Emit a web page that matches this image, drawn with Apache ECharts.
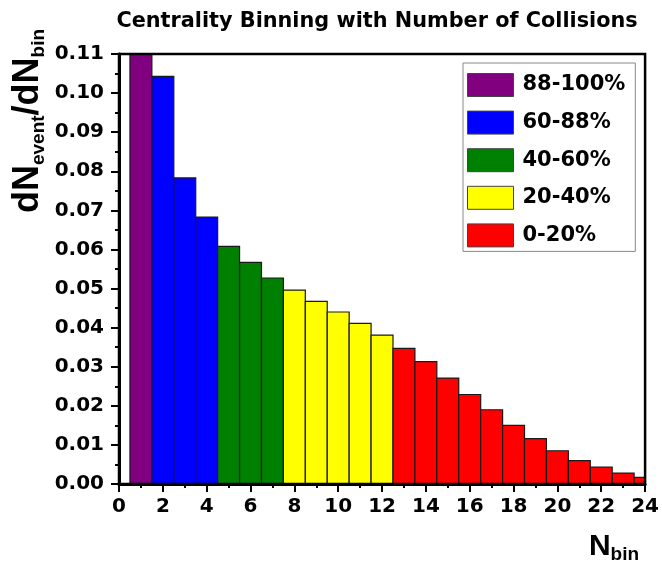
<!DOCTYPE html>
<html>
<head>
<meta charset="utf-8">
<style>
  html, body { margin: 0; padding: 0; background: #fff; }
  #chart { width: 662px; height: 568px; }
</style>
<script src="https://cdn.jsdelivr.net/npm/echarts@6/dist/echarts.min.js"></script>
</head>
<body>
<div id="chart"></div>
<script>
// Number of binary collisions per event (bin centres) and the event fraction per bin
const nBin = [1, 2, 3, 4, 5, 6, 7, 8, 9, 10, 11, 12, 13, 14, 15, 16, 17, 18, 19, 20, 21, 22, 23, 24];
const dNdN = [0.110, 0.1043, 0.0783, 0.0683, 0.0608, 0.0567, 0.0527, 0.0496, 0.0467, 0.0440,
              0.0411, 0.0381, 0.0347, 0.0313, 0.0271, 0.0229, 0.0190, 0.0150, 0.0116, 0.0085,
              0.0060, 0.0043, 0.0028, 0.0017];
// Centrality class of each bin (index into the classes below)
const classOfBin = [0, 1, 1, 1, 2, 2, 2, 3, 3, 3, 3, 3, 4, 4, 4, 4, 4, 4, 4, 4, 4, 4, 4, 4];
const classNames = ['88-100%', '60-88%', '40-60%', '20-40%', '0-20%'];
const classColors = ['#800080', '#0000ff', '#008000', '#ffff00', '#ff0000'];
const xTicks = { min: 0, max: 24, step: 2 };
const yTicks = { min: 0, max: 0.11, step: 0.01 };

const FONT = '"Liberation Sans", Arial, sans-serif';
const WIDE = '"DejaVu Sans", sans-serif';

function renderBar(params, api) {
  const x = api.value(0), y = api.value(1);
  const p0 = api.coord([x - 0.5, y]);
  const p1 = api.coord([x + 0.5, 0]);
  const rect = echarts.graphic.clipRectByRect(
    { x: p0[0], y: p0[1], width: p1[0] - p0[0], height: p1[1] - p0[1] },
    { x: params.coordSys.x, y: params.coordSys.y, width: params.coordSys.width, height: params.coordSys.height }
  );
  if (!rect) return;
  return {
    type: 'rect',
    shape: rect,
    style: { fill: api.visual('color'), stroke: '#1a1a1a', lineWidth: 1.2 }
  };
}

const series = classNames.map((name, ci) => ({
  name: name,
  type: 'custom',
  renderItem: renderBar,
  itemStyle: { color: classColors[ci] },
  encode: { x: 0, y: 1 },
  data: nBin.map((n, i) => [n, dNdN[i]]).filter((d, i) => classOfBin[i] === ci),
  z: 2
}));

const tickFont = { fontFamily: WIDE, fontWeight: 'bold', fontSize: 20, color: '#000' };

const chart = echarts.init(document.getElementById('chart'), null, { renderer: 'canvas' });
chart.setOption({
  animation: false,
  backgroundColor: '#fff',
  title: {
    text: 'Centrality Binning with Number of Collisions',
    left: 372,
    textAlign: 'center',
    top: 6,
    textStyle: { fontFamily: WIDE, fontWeight: 'bold', fontSize: 20.8, color: '#000' }
  },
  grid: {
    left: 119, right: 12, top: 54, bottom: 84,
    show: true, borderColor: '#000', borderWidth: 2.5, backgroundColor: 'transparent', z: 5
  },
  legend: {
    orient: 'vertical',
    left: 463, top: 63,
    data: classNames,
    icon: 'rect',
    itemWidth: 46, itemHeight: 23, itemGap: 13.6,
    padding: [10, 10, 4, 4],
    borderColor: '#888', borderWidth: 1, backgroundColor: '#fff',
    itemStyle: { borderColor: '#444', borderWidth: 1 },
    textStyle: { fontFamily: WIDE, fontWeight: 'bold', fontSize: 21, color: '#000', padding: [0, 0, 0, 4] },
    selectedMode: false
  },
  xAxis: {
    type: 'value',
    min: xTicks.min, max: xTicks.max, interval: xTicks.step,
    axisLine: { show: true, lineStyle: { color: '#000', width: 3 } },
    axisTick: { show: true, length: 8, lineStyle: { color: '#000', width: 2 } },
    minorTick: { show: true, splitNumber: 2, length: 4, lineStyle: { color: '#000', width: 2 } },
    splitLine: { show: false },
    axisLabel: Object.assign({ margin: 13 }, tickFont)
  },
  yAxis: {
    type: 'value',
    min: yTicks.min, max: yTicks.max, interval: yTicks.step,
    axisLine: { show: true, lineStyle: { color: '#000', width: 3 } },
    axisTick: { show: true, length: 8, lineStyle: { color: '#000', width: 2 } },
    minorTick: { show: true, splitNumber: 2, length: 4, lineStyle: { color: '#000', width: 2 } },
    splitLine: { show: false },
    axisLabel: Object.assign({ margin: 15, formatter: v => v.toFixed(2) }, tickFont)
  },
  graphic: [
    {
      type: 'text',
      x: 28, y: 121,
      rotation: Math.PI / 2,
      style: {
        text: '{a|dN}{b|event}{a|/dN}{b|bin}',
        align: 'center', verticalAlign: 'middle',
        rich: {
          a: { fontFamily: FONT, fontWeight: 'bold', fontSize: 36, color: '#000', lineHeight: 40, verticalAlign: 'middle' },
          b: { fontFamily: FONT, fontWeight: 'bold', fontSize: 19, color: '#000', lineHeight: 40, verticalAlign: 'bottom' }
        }
      }
    },
    {
      type: 'text',
      x: 614, y: 547,
      style: {
        text: '{a|N}{b|bin}',
        align: 'center', verticalAlign: 'middle',
        rich: {
          a: { fontFamily: FONT, fontWeight: 'bold', fontSize: 30, color: '#000', lineHeight: 34, verticalAlign: 'middle' },
          b: { fontFamily: FONT, fontWeight: 'bold', fontSize: 19, color: '#000', lineHeight: 34, verticalAlign: 'bottom' }
        }
      }
    }
  ],
  series: series
});
</script>
</body>
</html>
